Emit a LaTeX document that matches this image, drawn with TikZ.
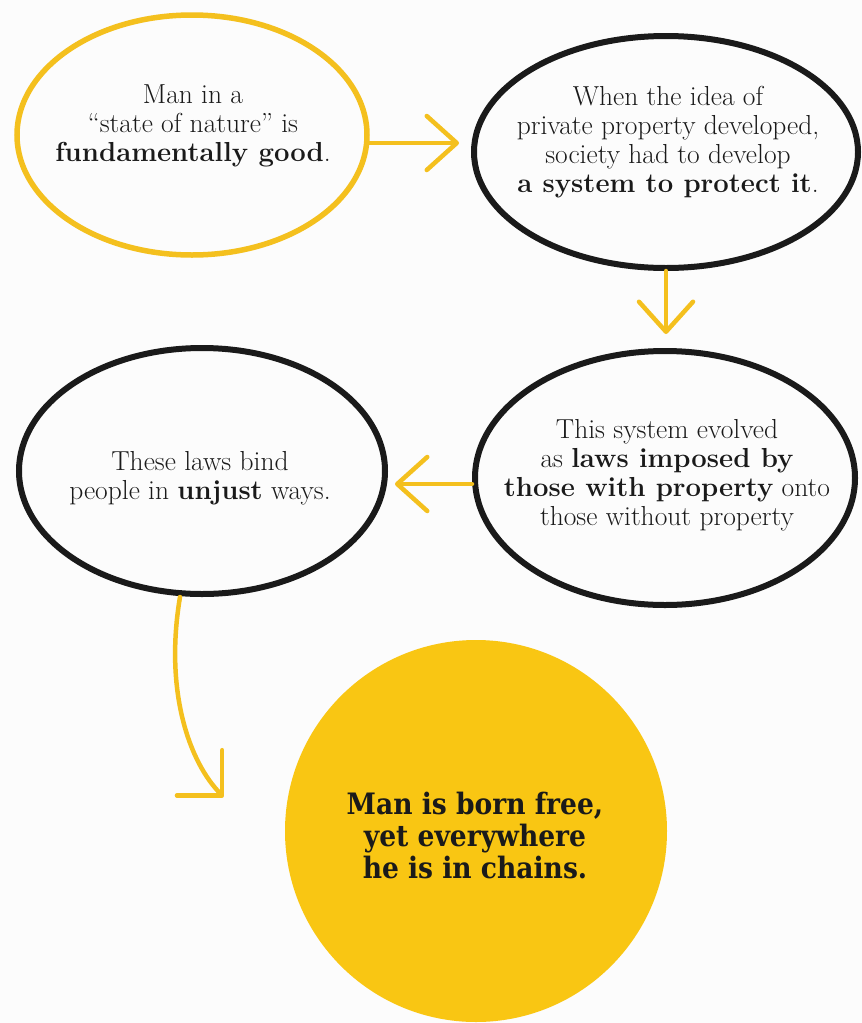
\documentclass[tikz,border=0pt]{standalone}
\usepackage{fontspec}
\newfontfamily\headfont{DejaVu Serif Condensed}
\usetikzlibrary{shapes.geometric,arrows.meta,calc}
\definecolor{ylw}{RGB}{249,198,19}
\definecolor{ylwline}{RGB}{244,192,30}
\definecolor{ink}{RGB}{26,26,26}
\definecolor{bgc}{RGB}{252,252,252}
\begin{document}
\begin{tikzpicture}[x=1pt,y=-1pt,
  bubble/.style={ellipse, draw=ink, line width=6pt, inner sep=0pt},
  ybubble/.style={ellipse, draw=ylwline, line width=5.5pt, inner sep=0pt},
  txt/.style={align=center, text=ink, font=\fontsize{27.5}{29}\selectfont, inner sep=0pt},
  headtxt/.style={align=center, text=ink, font=\headfont\bfseries\fontsize{29.5}{32}\selectfont, inner sep=0pt},
  flow/.style={draw=ylwline, line width=4.5pt, line cap=round, -{Straight Barb[length=30pt,width=54pt,round]}},
  flowcorner/.style={draw=ylwline, line width=4.5pt, line cap=round, -{Straight Barb[length=32pt,width=64pt,round]}},
]
\fill[bgc] (0,0) rectangle (862,1023);
\useasboundingbox (0,0) rectangle (862,1023);

% bubbles
\node[ybubble, minimum width=350pt, minimum height=240pt] (a) at (192,135) {};
\node[bubble, minimum width=384pt, minimum height=232pt] (b) at (666,152) {};
\node[bubble, minimum width=380pt, minimum height=254pt] (c) at (665,478) {};
\node[bubble, minimum width=366pt, minimum height=246pt] (d) at (202,471) {};
\node[circle, fill=ylw, minimum size=382pt, inner sep=0pt] (e) at (476,831) {};

% texts
\node[txt] (at) at (193,126) {Man in a\\ ``state of nature'' is\\ \textbf{fundamentally good}.};
\node[txt] (bt) at (668,142) {When the idea of\\ private property developed,\\ society had to develop\\ \textbf{a system to protect it}.};
\node[txt] (ct) at (667,475) {This system evolved\\ as \textbf{laws imposed by}\\ \textbf{those with property} onto\\ those without property};
\node[txt] (dt) at (200,478) {These laws bind\\ people in \textbf{unjust} ways.};
\node[headtxt] (et) at (475,835) {Man is born free,\\ yet everywhere\\ he is in chains.};

% connectors
\draw[flow, shorten >=12pt] ([yshift=-8pt]a.east) -- ([yshift=-8pt]a.east -| b.west);
\draw[flow, shorten >=14pt] (b.south) -- (b.south |- c.north);
\draw[flow, shorten >=7pt] ([yshift=-6pt]c.west) -- ([yshift=-6pt]c.west -| d.east);
\coordinate (tip4) at ($(e.west)+(-61,-34)$);
\draw[flowcorner] ([xshift=-22pt]d.south) .. controls +(-16,95) and +(-34,-34) .. (tip4);
\end{tikzpicture}
\end{document}
